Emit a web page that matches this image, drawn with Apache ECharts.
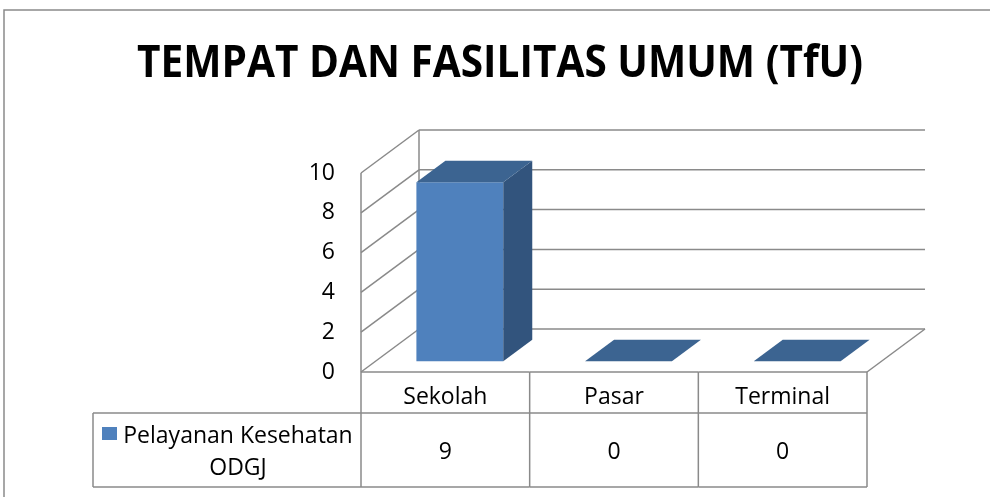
<!DOCTYPE html>
<html>
<head>
<meta charset="utf-8">
<script src="https://cdn.jsdelivr.net/npm/echarts@6/dist/echarts.min.js"></script>
<style>
html, body { margin: 0; padding: 0; background: #fff; }
#chart { width: 990px; height: 497px; }
</style>
</head>
<body>
<div id="chart"></div>
<script>
// chart data
var titleText = 'TEMPAT DAN FASILITAS UMUM (TfU)';
var categories = ['Sekolah', 'Pasar', 'Terminal'];
var seriesName = 'Pelayanan Kesehatan\nODGJ';
var values = [9, 0, 0];
var yTicks = [0, 2, 4, 6, 8, 10];

// look
var font = 'Open Sans';
var lineColor = '#8a8a8a';
var depth = [58, -43];          // 3d offset of the back wall
var barFront = '#4F81BD', barSide = '#32547D', barTop = '#3C6491';
var headRowH = 41, valRowH = 74, legendLeft = 93;

// title is squeezed to the width of the original narrow font
var titleSize = 45;
var ctx = document.createElement('canvas').getContext('2d');
ctx.font = 'bold ' + titleSize + 'px "' + font + '"';
var titleScale = 726 / ctx.measureText(titleText).width;

var myChart = echarts.init(document.getElementById('chart'));

function line(x1, y1, x2, y2) {
    return {
        type: 'line',
        shape: { x1: x1, y1: y1, x2: x2, y2: y2 },
        style: { stroke: lineColor, lineWidth: 1.5 }
    };
}

// back wall, side wall and floor
function renderWalls(params, api) {
    var cs = params.coordSys;
    var y = api.coord([0, api.value(1)])[1];
    var kids = [
        line(cs.x, y, cs.x + depth[0], y + depth[1]),
        line(cs.x + depth[0], y + depth[1], cs.x + cs.width + depth[0], y + depth[1])
    ];
    if (params.dataIndex === 0) {
        var bottom = cs.y + cs.height;
        kids.push(line(cs.x, cs.y, cs.x, bottom));
        kids.push(line(cs.x + depth[0], cs.y + depth[1], cs.x + depth[0], bottom + depth[1]));
        kids.push(line(cs.x + cs.width, bottom, cs.x + cs.width + depth[0], bottom + depth[1]));
    }
    return { type: 'group', children: kids };
}

// 3d bars
function renderBar(params, api) {
    var c0 = api.coord([api.value(0), 0]);
    var c1 = api.coord([api.value(0), api.value(1)]);
    var w = api.size([1, 0])[0] * 0.515;
    var fx = depth[0] * 0.25, fy = depth[1] * 0.25;
    var bx = depth[0] * 0.5, by = depth[1] * 0.5;
    var left = c0[0] - w / 2 + fx, right = left + w;
    var bottom = c0[1] + fy, top = c1[1] + fy;
    var kids = [];
    if (bottom - top > 0.5) {
        kids.push({
            type: 'rect',
            shape: { x: left, y: top, width: w, height: bottom - top },
            style: { fill: barFront }
        });
        kids.push({
            type: 'polygon',
            shape: { points: [[right, bottom], [right + bx, bottom + by], [right + bx, top + by], [right, top]] },
            style: { fill: barSide }
        });
    }
    kids.push({
        type: 'polygon',
        shape: { points: [[left, top], [right, top], [right + bx, top + by], [left + bx, top + by]] },
        style: { fill: barTop }
    });
    return { type: 'group', children: kids };
}

// data table under the axis
function renderTable(params, api) {
    var cs = params.coordSys;
    var c = api.coord([api.value(0), 0]);
    var colW = api.size([1, 0])[0];
    var x0 = c[0] - colW / 2, x1 = c[0] + colW / 2;
    var top = cs.y + cs.height, mid = top + headRowH, bot = mid + valRowH;
    var kids = [
        line(x0, top, x1, top),
        line(x0, mid, x1, mid),
        line(x0, bot, x1, bot),
        line(x1, top, x1, bot),
        {
            type: 'text', x: c[0], y: top + headRowH / 2 + 5,
            style: { text: categories[params.dataIndex], fontFamily: font, fontSize: 23, fill: '#000', align: 'center', verticalAlign: 'middle' }
        },
        {
            type: 'text', x: c[0], y: mid + valRowH / 2 + 2,
            style: { text: String(api.value(1)), fontFamily: font, fontSize: 23, fill: '#000', align: 'center', verticalAlign: 'middle' }
        }
    ];
    if (params.dataIndex === 0) {
        kids.push(line(x0, top, x0, bot));
        kids.push(line(legendLeft, mid, x0, mid));
        kids.push(line(legendLeft, bot, x0, bot));
        kids.push(line(legendLeft, mid, legendLeft, bot));
        kids.push({
            type: 'rect',
            shape: { x: legendLeft + 9, y: mid + 14, width: 15, height: 13 },
            style: { fill: barFront }
        });
        kids.push({
            type: 'text', x: (legendLeft + 31 + x0 - 9) / 2, y: mid + valRowH / 2 + 2,
            style: { text: seriesName, fontFamily: font, fontSize: 23, lineHeight: 32, fill: '#000', align: 'center', verticalAlign: 'middle' }
        });
    }
    return { type: 'group', children: kids };
}

var option = {
    animation: false,
    backgroundColor: '#fff',
    grid: { left: 361, top: 173, width: 506, height: 199 },
    xAxis: {
        type: 'category',
        data: categories,
        axisLine: { show: false },
        axisTick: { show: false },
        axisLabel: { show: false },
        splitLine: { show: false }
    },
    yAxis: {
        type: 'value',
        min: 0,
        max: 10,
        interval: 2,
        axisLine: { show: false },
        axisTick: { show: false },
        splitLine: { show: false },
        axisLabel: { color: '#000', fontFamily: font, fontSize: 23, margin: 26, padding: [6, 0, 0, 0] }
    },
    graphic: [
        {
            type: 'rect',
            shape: { x: 4, y: 10, width: 1100, height: 600 },
            style: { fill: 'none', stroke: lineColor, lineWidth: 1.5 },
            silent: true
        },
        {
            type: 'text',
            x: 500,
            y: 64,
            scaleX: titleScale,
            style: {
                text: titleText, fontFamily: font, fontWeight: 'bold', fontSize: titleSize,
                fill: '#000', align: 'center', verticalAlign: 'middle'
            }
        }
    ],
    series: [
        {
            type: 'custom',
            name: 'walls',
            z: 1,
            data: yTicks.map(function (v) { return [0, v]; }),
            renderItem: renderWalls
        },
        {
            type: 'custom',
            name: 'table',
            z: 2,
            data: values.map(function (v, i) { return [i, v]; }),
            renderItem: renderTable
        },
        {
            type: 'custom',
            name: seriesName,
            z: 3,
            data: values.map(function (v, i) { return [i, v]; }),
            renderItem: renderBar
        }
    ]
};

myChart.setOption(option);
</script>
</body>
</html>
